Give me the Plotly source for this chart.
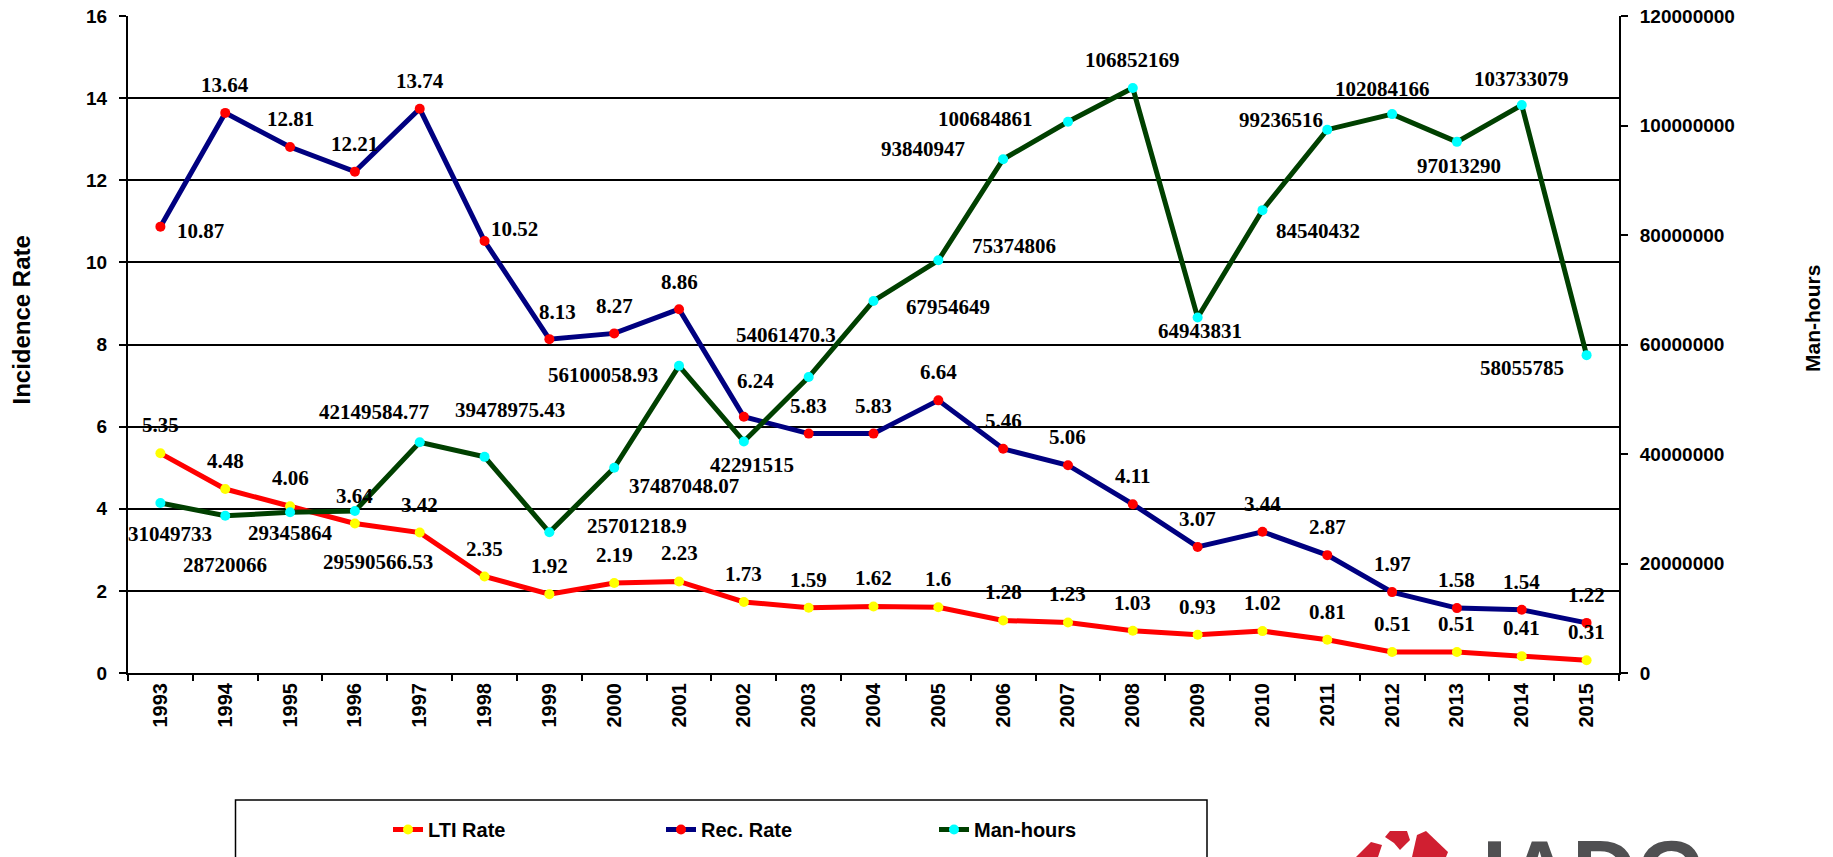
import plotly.graph_objects as go

# ---------------- data ----------------
years = [str(y) for y in range(1993, 2016)]
lti_rate = [5.35, 4.48, 4.06, 3.64, 3.42, 2.35, 1.92, 2.19, 2.23, 1.73, 1.59, 1.62,
            1.6, 1.28, 1.23, 1.03, 0.93, 1.02, 0.81, 0.51, 0.51, 0.41, 0.31]
rec_rate = [10.87, 13.64, 12.81, 12.21, 13.74, 10.52, 8.13, 8.27, 8.86, 6.24, 5.83, 5.83,
            6.64, 5.46, 5.06, 4.11, 3.07, 3.44, 2.87, 1.97, 1.58, 1.54, 1.22]
man_hours = [31049733, 28720066, 29345864, 29590566.53, 42149584.77, 39478975.43,
             25701218.9, 37487048.07, 56100058.93, 42291515, 54061470.3, 67954649,
             75374806, 93840947, 100684861, 106852169, 64943831, 84540432, 99236516,
             102084166, 97013290, 103733079, 58055785]
series_names = ["LTI Rate", "Rec. Rate", "Man-hours"]
left_title = "Incidence Rate"
right_title = "Man-hours"
logo_text = "IADC"

# ---------------- layout constants ----------------
W, H = 1833, 857
PW, PH = 1491, 657
ML, MT = 128, 16
MR, MB = W - ML - PW, H - MT - PH
PLOT_L, PLOT_B = ML, MT + PH


def px(x):
    return (x - PLOT_L) / PW


def py(y):
    return (PLOT_B - y) / PH


SANS = "Arial, 'Liberation Sans', sans-serif"
SERIF = "'Times New Roman', 'Liberation Serif', serif"

# data-label offsets (pixels, dx right, dy down)
lti_off = [(0, -28)] * 23
rec_off = [(40, 4), (0, -28), (0, -28), (0, -28), (0, -28), (30, -12), (8, -27), (0, -27),
           (0, -27), (12, -36)] + [(0, -28)] * 13
mh_off = [(10, 31), (0, 49), (0, 21), (23, 51), (-46, -30), (25, -47), (88, -6), (70, 18),
          (-76, 9), (8, 24), (-23, -42), (74, 6), (76, -14), (-80, -10), (-82, -3), (0, -28),
          (2, 14), (56, 21), (-46, -10), (-10, -25), (2, 24), (0, -26), (-65, 13)]


def fmt(v):
    return f"{v:.2f}".rstrip("0").rstrip(".")


fig = go.Figure()
fig.add_trace(go.Scatter(x=years, y=lti_rate, name=series_names[0], mode="lines+markers",
                         line=dict(color="#FF0000", width=5),
                         marker=dict(color="#FFFF00", size=10)))
fig.add_trace(go.Scatter(x=years, y=rec_rate, name=series_names[1], mode="lines+markers",
                         line=dict(color="#000080", width=5),
                         marker=dict(color="#FF0000", size=10)))
fig.add_trace(go.Scatter(x=years, y=man_hours, name=series_names[2], mode="lines+markers",
                         yaxis="y2",
                         line=dict(color="#004000", width=5),
                         marker=dict(color="#00FFFF", size=10)))

label_font = dict(family=SERIF, size=21, color="black", weight="bold")
for vals, offs, yref in [(lti_rate, lti_off, "y"), (rec_rate, rec_off, "y"), (man_hours, mh_off, "y2")]:
    for i, (v, (dx, dy)) in enumerate(zip(vals, offs)):
        fig.add_annotation(x=i, y=v, yref=yref, xref="x", text=fmt(v), showarrow=False,
                           xanchor="center", yanchor="middle",
                           xshift=dx, yshift=-dy, font=label_font)

# axis titles
fig.add_annotation(x=px(20.5), y=py(320), xref="paper", yref="paper", text=left_title,
                   textangle=-90, showarrow=False, xanchor="center", yanchor="middle",
                   font=dict(family=SANS, size=24, color="black", weight="bold"))
fig.add_annotation(x=px(1812), y=py(319), xref="paper", yref="paper", text=right_title,
                   textangle=-90, showarrow=False, xanchor="center", yanchor="middle",
                   font=dict(family=SANS, size=21, color="black", weight="bold"))

# logo text (partially cut off at bottom, as in the source image)
fig.add_annotation(x=px(1480), y=py(821), xref="paper", yref="paper", text=logo_text,
                   xanchor="left", yanchor="top", showarrow=False,
                   font=dict(family=SANS, size=90, color="#505052", weight="bold"))

# legend frame
fig.add_shape(type="rect", xref="paper", yref="paper", x0=px(235.5), x1=px(1207),
              y0=py(800), y1=py(880), line=dict(color="black", width=1.5))

# logo petals
petals = [
    [(1356, 857), (1371, 842), (1382, 845), (1378, 857)],
    [(1385, 837), (1390, 831), (1407, 831), (1410, 840), (1400, 850), (1394, 843)],
    [(1412, 857), (1417, 835), (1426, 831), (1448, 852), (1446, 857)],
]
for pts in petals:
    path = "M " + " L ".join(f"{px(a):.5f},{py(b):.5f}" for a, b in pts) + " Z"
    fig.add_shape(type="path", xref="paper", yref="paper", path=path,
                  fillcolor="#D01F31", line=dict(width=0))

tick_font = dict(family=SANS, size=19, color="black", weight="bold")
fig.update_layout(
    width=W, height=H,
    margin=dict(l=ML, r=MR, t=MT, b=MB, autoexpand=False),
    paper_bgcolor="white", plot_bgcolor="white",
    showlegend=True,
    legend=dict(orientation="h", x=px(388), y=py(810), xanchor="left", yanchor="top",
                entrywidth=228, entrywidthmode="pixels",
                font=dict(family=SANS, size=20, color="black", weight="bold"),
                bgcolor="rgba(0,0,0,0)", borderwidth=0, itemclick=False),
    xaxis=dict(type="category", range=[-0.5, 22.5], showline=True, linecolor="black",
               linewidth=2, ticks="outside", ticklen=6, tickcolor="black", tickwidth=1.5,
               tickson="boundaries", tickangle=-90,
               tickfont=dict(family=SANS, size=20, color="black", weight="bold"),
               showgrid=False, zeroline=False),
    yaxis=dict(range=[0, 16], dtick=2, showline=True, linecolor="black", linewidth=2,
               ticks="outside", ticklen=7, tickcolor="black", tickwidth=1.5,
               tickfont=tick_font, showgrid=True, gridcolor="black", gridwidth=2,
               zeroline=False, ticklabelstandoff=8, ticklabeloverflow="allow"),
    yaxis2=dict(range=[0, 120000000], dtick=20000000, overlaying="y", side="right",
                showline=True, linecolor="black", linewidth=2, ticks="outside", ticklen=7,
                tickcolor="black", tickwidth=1.5, tickfont=tick_font, tickformat="d",
                showgrid=False, zeroline=False, ticklabelstandoff=8,
                ticklabeloverflow="allow"),
)

# remove the browser's default 8px body margin so the figure fills the window exactly
fig.write_html("out.html", config={"displayModeBar": False},
               post_script="document.body.style.margin='0';document.body.style.overflow='hidden';")
